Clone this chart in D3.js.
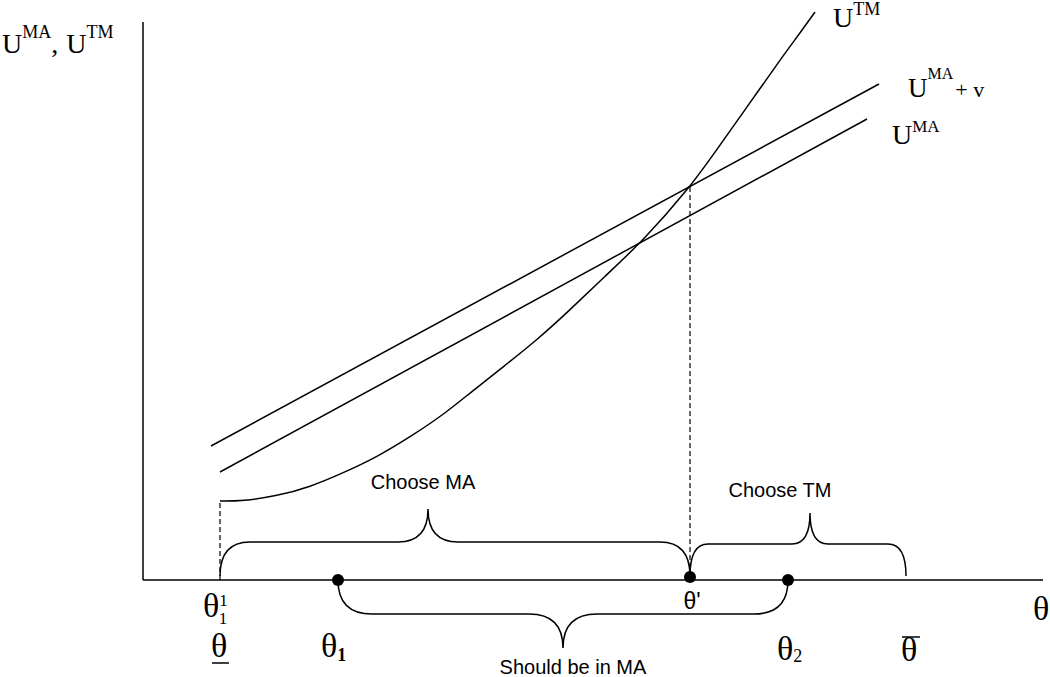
<!DOCTYPE html>
<html>
<head>
<meta charset="utf-8">
<script src="https://cdn.jsdelivr.net/npm/d3@7"></script>
<style>
  html, body { margin: 0; padding: 0; background: #fff; }
  svg { display: block; }
</style>
</head>
<body>
<svg id="chart" width="1050" height="677"></svg>
<script>
// ---------- data (theta on x, utility on y) ----------
const umaPlusV = [[6.8, 13.4], [73.6, 49.6]];
const uma      = [[7.7, 10.8], [72.4, 46.1]];
const utmTheta = [7.7, 10.0, 13.4, 16.7, 20.0, 23.4, 26.7, 30.0, 32.7, 36.0, 39.4, 42.7, 46.0, 50.1, 54.7, 57.0, 60.4, 63.7, 65.7, 67.2];
const utmValue = [7.9, 7.9, 8.4, 9.3, 10.7, 12.3, 14.3, 16.5, 18.7, 21.3, 24.0, 27.0, 30.2, 34.0, 39.3, 42.5, 47.3, 52.0, 54.7, 56.8];

const thetaLow = 7.7;     // θ_1^1 = lower bound
const thetaPrime = 54.7;  // θ'
const theta1 = 19.5;
const theta2 = 64.5;
const thetaHigh = 76.3;
const dashedLines = [[thetaLow, 0, 7.9], [thetaPrime, 0.4, 39.3]];
const dots = [[theta1, 0], [thetaPrime, 0.3], [theta2, 0]];

// braces
const braceNames  = ["Choose MA", "Choose TM", "Should be in MA"];
const braceFrom   = [thetaLow, thetaPrime, theta1];
const braceTo     = [thetaPrime, thetaHigh, theta2];
const braceTip    = [28.5, 66.7, 42.0];
const braceFlat   = [3.8, 3.6, -3.4];
const braceTipLvl = [7.1, 6.7, -6.8];
const braceEnd    = [0.4, 0.4, 0];

// ---------- layout ----------
const svg = d3.select("#chart");
const x = d3.scaleLinear().domain([0, 90]).range([143, 1043]);
const y = d3.scaleLinear().domain([0, 56]).range([580, 20]);

const serif = "'Liberation Serif', 'Times New Roman', serif";
const sans = "'Liberation Sans', Arial, Helvetica, sans-serif";
const sw = 1.5;

// axes
svg.append("line").attr("x1", x(0)).attr("x2", x(0)).attr("y1", y(55.8)).attr("y2", y(0))
  .attr("stroke", "#000").attr("stroke-width", sw);
svg.append("line").attr("x1", x(0)).attr("x2", x(90)).attr("y1", y(0)).attr("y2", y(0))
  .attr("stroke", "#000").attr("stroke-width", sw);

const line = d3.line().x(d => x(d[0])).y(d => y(d[1]));

svg.append("path").datum(umaPlusV).attr("d", line).attr("fill", "none").attr("stroke", "#000").attr("stroke-width", sw);
svg.append("path").datum(uma).attr("d", line).attr("fill", "none").attr("stroke", "#000").attr("stroke-width", sw);

const utm = utmTheta.map((t, i) => [t, utmValue[i]]);
const smooth = d3.line().x(d => x(d[0])).y(d => y(d[1])).curve(d3.curveBasis);
svg.append("path").datum(utm).attr("d", smooth)
  .attr("fill", "none").attr("stroke", "#000").attr("stroke-width", sw);

// dashed guides
svg.selectAll("line.dash").data(dashedLines).enter().append("line")
  .attr("class", "dash")
  .attr("x1", d => x(d[0])).attr("x2", d => x(d[0]))
  .attr("y1", d => y(d[1])).attr("y2", d => y(d[2]))
  .attr("stroke", "#000").attr("stroke-width", 1.2).attr("stroke-dasharray", "5,3");

// braces
const curl = [30, 18, 34]; // px width of the brace curls
braceNames.forEach((name, i) => {
  const x0 = x(braceFrom[i]), x1 = x(braceTo[i]), xt = x(braceTip[i]);
  const yf = y(braceFlat[i]), yt = y(braceTipLvl[i]), ye = y(braceEnd[i]);
  const r = curl[i];
  const p = d3.path();
  p.moveTo(x0, ye);
  p.quadraticCurveTo(x0, yf, x0 + r, yf);
  p.lineTo(xt - r, yf);
  p.quadraticCurveTo(xt, yf, xt, yt);
  p.quadraticCurveTo(xt, yf, xt + r, yf);
  p.lineTo(x1 - r, yf);
  p.quadraticCurveTo(x1, yf, x1, ye);
  svg.append("path").attr("d", p.toString()).attr("fill", "none")
    .attr("stroke", "#000").attr("stroke-width", sw);
});

// dots
svg.selectAll("circle").data(dots).enter().append("circle")
  .attr("cx", d => x(d[0])).attr("cy", d => y(d[1])).attr("r", 6).attr("fill", "#000");

// brace labels
svg.append("text").attr("x", 423).attr("y", 489).attr("text-anchor", "middle")
  .attr("font-family", sans).attr("font-size", 20).text(braceNames[0]);
svg.append("text").attr("x", 780).attr("y", 497).attr("text-anchor", "middle")
  .attr("font-family", sans).attr("font-size", 20).text(braceNames[1]);
svg.append("text").attr("x", 573).attr("y", 674).attr("text-anchor", "middle")
  .attr("font-family", sans).attr("font-size", 20).text(braceNames[2]);

// θ' label
svg.append("text").attr("x", 692).attr("y", 609).attr("text-anchor", "middle")
  .attr("font-family", sans).attr("font-size", 23).text("θ'");

// y-axis title
const yt = svg.append("text").attr("x", 2).attr("y", 53).attr("font-family", serif).attr("font-size", 28);
yt.append("tspan").text("U");
yt.append("tspan").attr("font-size", 18).attr("dy", -15).text("MA");
yt.append("tspan").attr("dy", 15).text(",");
yt.append("tspan").attr("dx", 8).text("U");
yt.append("tspan").attr("font-size", 18).attr("dy", -15).text("TM");

// curve labels
const l1 = svg.append("text").attr("x", 833).attr("y", 27).attr("font-family", serif).attr("font-size", 28);
l1.append("tspan").text("U");
l1.append("tspan").attr("font-size", 18).attr("dy", -12).text("TM");

const l2 = svg.append("text").attr("x", 908).attr("y", 97).attr("font-family", serif).attr("font-size", 27);
l2.append("tspan").text("U");
l2.append("tspan").attr("font-size", 16).attr("dy", -18).text("MA");
l2.append("tspan").attr("font-size", 22).attr("dy", 18).attr("dx", 2).text("+ v");

const l3 = svg.append("text").attr("x", 892).attr("y", 144).attr("font-family", serif).attr("font-size", 28);
l3.append("tspan").text("U");
l3.append("tspan").attr("font-size", 17).attr("dy", -12).text("MA");

// x-axis labels
const tf = 34;
const t11 = svg.append("text").attr("x", 203).attr("y", 617).attr("font-family", serif).attr("font-size", tf);
t11.append("tspan").text("θ");
t11.append("tspan").attr("font-size", 17).attr("dy", -11).text("1");
t11.append("tspan").attr("font-size", 17).attr("dy", 18).attr("dx", -8.5).text("1");

svg.append("text").attr("x", 211).attr("y", 657).attr("font-family", serif).attr("font-size", tf).text("θ");
svg.append("line").attr("x1", 212).attr("x2", 229).attr("y1", 663).attr("y2", 663).attr("stroke", "#000").attr("stroke-width", 1.5);

const t1 = svg.append("text").attr("x", 321).attr("y", 657).attr("font-family", serif).attr("font-size", tf);
t1.append("tspan").text("θ");
t1.append("tspan").attr("font-size", 18).attr("font-weight", "bold").attr("dy", 4).text("1");

const t2 = svg.append("text").attr("x", 777).attr("y", 660).attr("font-family", serif).attr("font-size", tf);
t2.append("tspan").text("θ");
t2.append("tspan").attr("font-size", 18).attr("dy", 2).text("2");

svg.append("text").attr("x", 901).attr("y", 661).attr("font-family", serif).attr("font-size", tf).text("θ");
svg.append("line").attr("x1", 902).attr("x2", 920).attr("y1", 637).attr("y2", 637).attr("stroke", "#000").attr("stroke-width", 1.5);

svg.append("text").attr("x", 1033).attr("y", 620).attr("font-family", serif).attr("font-size", tf).text("θ");
</script>
</body>
</html>
